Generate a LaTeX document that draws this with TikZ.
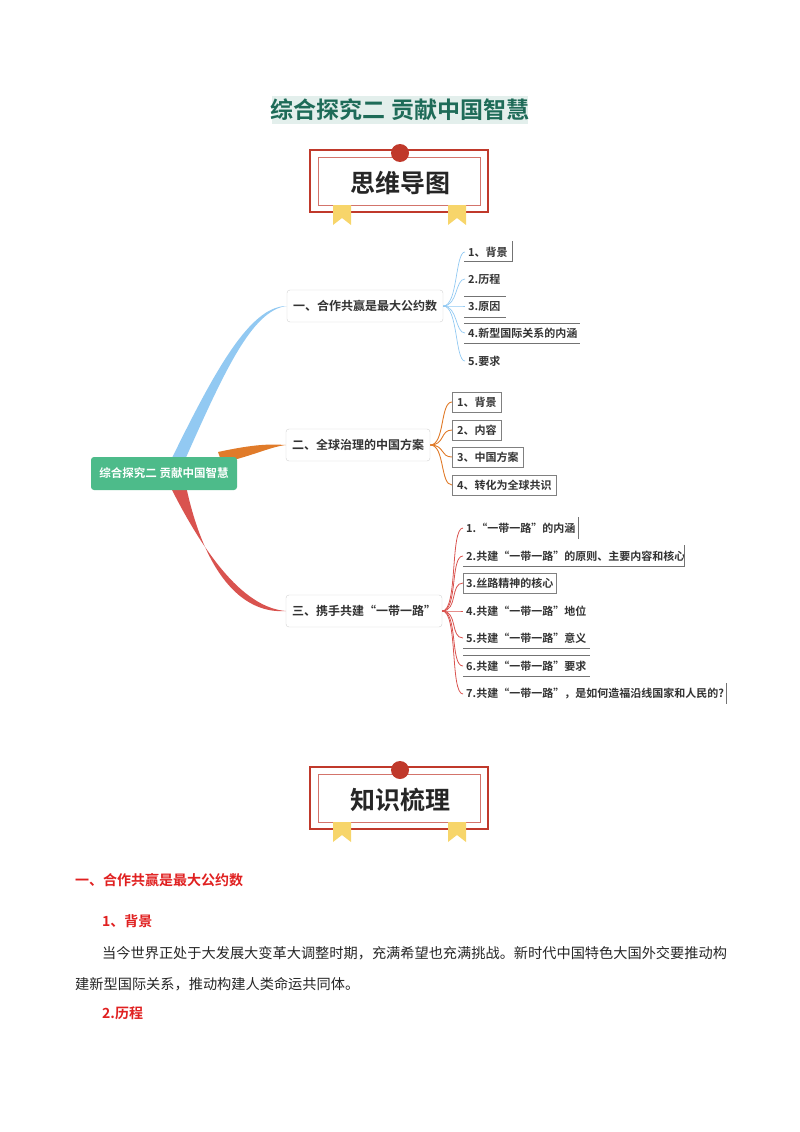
\documentclass[tikz,border=0pt]{standalone}
\usepackage{fontspec}
\setmainfont{Noto Sans CJK SC}[BoldFont={* Bold}]
\definecolor{tgreen}{HTML}{1E6B58}
\definecolor{tbg}{HTML}{E3EFEC}
\definecolor{bred}{HTML}{C0392B}
\definecolor{ribbon}{HTML}{F7D56A}
\definecolor{rootg}{HTML}{4DBB8A}
\definecolor{cblue}{HTML}{92C9F2}
\definecolor{corange}{HTML}{E07B2A}
\definecolor{cred}{HTML}{D9534F}
\definecolor{hred}{HTML}{E02020}
\tikzset{
  branch/.style={draw=black!18,rounded corners=3pt,fill=white,minimum height=32,inner xsep=6,font=\fontsize{12}{12}\selectfont\bfseries,text=black!80},
  item/.style={anchor=west,inner xsep=3,inner ysep=2,font=\fontsize{11}{11}\selectfont\bfseries,text=black!80},
  ibox/.style={item,draw=black!50,minimum height=20,inner xsep=5},
}
\newcommand{\banner}[3]{%
  \draw[bred,line width=1.2] (310,#1-3) rectangle (488,#1+59);
  \draw[bred!70,line width=0.8] (318,#1+4) rectangle (480,#1+52);
  \fill[bred] (400,#1) circle (9);
  \foreach \rx in {333,448}{
    \fill[ribbon] (\rx,#1+52) -- (\rx+18,#1+52) -- (\rx+18,#1+72) -- (\rx+9,#1+65) -- (\rx,#1+72) -- cycle;}
  \node[font=\fontsize{25}{25}\selectfont\bfseries,text=black!85] (#3) at (400,#1+30) {#2};
}
\begin{document}
\begin{tikzpicture}[x=1pt,y=-1pt]
\useasboundingbox (0,0) rectangle (800,1132);
\fill[tbg] (272,96) rectangle (528,124);
\node[font=\fontsize{23}{23}\selectfont\bfseries,text=tgreen] (title) at (400,110) {综合探究二\ 贡献中国智慧};
\banner{153}{思维导图}{b1}
\banner{770}{知识梳理}{b2}
\node[branch,minimum width=154] (n1) at (365,306) {一、合作共赢是最大公约数};
\node[branch,minimum width=140] (n2) at (358,445) {二、全球治理的中国方案};
\node[branch,minimum width=152] (n3) at (364,611) {三、携手共建“一带一路”};
\fill[cblue] (170,462) .. controls (215,370) and (250,306) .. (n1.west) .. controls (252,310) and (224,372) .. (184,462) -- cycle;
\fill[corange] (218,452) .. controls (255,444) and (270,444) .. (n2.west) .. controls (270,447) and (255,455) .. (222,463) -- cycle;
\fill[cred] (170,486) .. controls (212,570) and (250,608) .. (n3.west) .. controls (246,614) and (206,580) .. (186,486) -- cycle;
\node[fill=rootg,rounded corners=3pt,minimum width=146,minimum height=33,text=white,font=\fontsize{11.5}{11.5}\selectfont\bfseries] (root) at (164,473.5) {综合探究二 贡献中国智慧};
\coordinate (k1) at (455,0);
\coordinate (k2) at (440,0);
\coordinate (k3) at (450,0);
\node[item] (a1) at (465,252) {1、背景};
\node[item] (a2) at (465,279) {2.历程};
\node[item] (a3) at (465,306) {3.原因};
\node[item] (a4) at (465,333) {4.新型国际关系的内涵};
\node[item] (a5) at (465,361) {5.要求};
\draw[black!55] (464,261) -- (512,261) -- (512,241);
\draw[black!55] (464,296) -- (506,296);
\draw[black!55] (464,317) -- (506,317);
\draw[black!55] (464,323) -- (580,323) (464,343) -- (580,343);
\foreach \t in {a1,a2,a3,a4,a5}{\draw[cblue,line width=0.7] (n1.east) .. controls (458,306) and (\t.west -| k1) .. (\t.west);}
\node[ibox] (b1i) at (452,402) {1、背景};
\node[ibox] (b2i) at (452,430) {2、内容};
\node[ibox] (b3i) at (452,457) {3、中国方案};
\node[ibox] (b4i) at (452,485) {4、转化为全球共识};
\foreach \t in {b1i,b2i,b3i,b4i}{\draw[corange,line width=0.9] (n2.east) .. controls (445,445) and (\t.west -| k2) .. (\t.west);}
\node[item] (c1) at (463,528) {1.“一带一路”的内涵};
\node[item] (c2) at (463,556) {2.共建“一带一路”的原则、主要内容和核心};
\node[ibox,inner xsep=3] (c3) at (463,583) {3.丝路精神的核心};
\node[item] (c4) at (463,611) {4.共建“一带一路”地位};
\node[item] (c5) at (463,638) {5.共建“一带一路”意义};
\node[item] (c6) at (463,666) {6.共建“一带一路”要求};
\node[item] (c7) at (463,694) {7.共建“一带一路”，是如何造福沿线国家和人民的?};
\draw[black!55] (578,517) -- (578,539);
\draw[black!55] (463,566) -- (684,566) -- (684,545);
\draw[black!55] (463,648) -- (590,648) (463,655) -- (590,655) (463,676) -- (590,676);
\draw[black!55] (726,683) -- (726,704);
\foreach \t in {c1,c2,c3,c4,c5,c6,c7}{\draw[cred,line width=0.8] (n3.east) .. controls (458,611) and (\t.west -| k3) .. (\t.west);}
\node[anchor=west,inner sep=0,text=hred,font=\fontsize{14}{14}\selectfont\bfseries] (h1) at (75,880) {一、合作共赢是最大公约数};
\node[anchor=west,inner sep=0,text=hred,font=\fontsize{14}{14}\selectfont\bfseries] (h2) at (102,921) {1、背景};
\node[anchor=west,inner sep=0,text=black!85,font=\fontsize{14.2}{14.2}\selectfont] (p1) at (102,953) {当今世界正处于大发展大变革大调整时期，充满希望也充满挑战。新时代中国特色大国外交要推动构};
\node[anchor=west,inner sep=0,text=black!85,font=\fontsize{14.2}{14.2}\selectfont] (p2) at (75,984) {建新型国际关系，推动构建人类命运共同体。};
\node[anchor=west,inner sep=0,text=hred,font=\fontsize{14}{14}\selectfont\bfseries] (h3) at (102,1013) {2.历程};
\end{tikzpicture}
\end{document}
